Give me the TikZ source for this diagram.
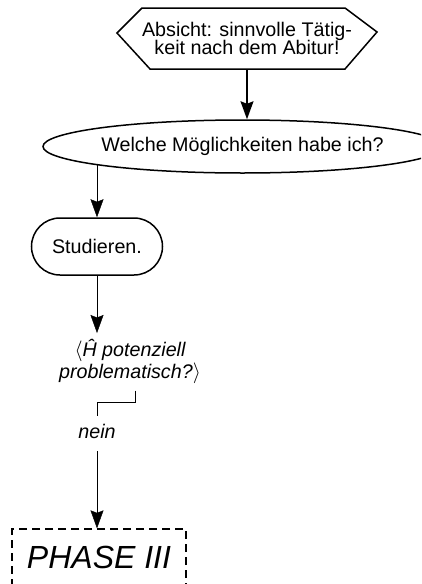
\documentclass[tikz,border=0pt]{standalone}
\usepackage{fontspec}
\setmainfont{Liberation Sans}
\usetikzlibrary{arrows.meta,shapes.geometric,backgrounds}

\begin{document}
\begin{tikzpicture}[x=1pt,y=-1pt,
  line width=1.5pt,
  txt/.style={font=\fontsize{19.7}{18.5}\selectfont, inner sep=0pt},
  itxt/.style={font=\fontsize{19.7}{21.6}\selectfont\itshape, inner sep=0pt},
  arr/.style={-{Stealth[length=18pt,width=13pt,inset=2.5pt]}},
  stadium/.style={draw, fill=white, rounded corners=28.5pt,
    minimum width=131pt, minimum height=57pt},
  oval/.style={ellipse, draw, fill=white, minimum width=355pt,
    minimum height=53pt},
  phasebox/.style={draw, line width=1.3pt, dash pattern=on 8pt off 5pt,
    inner sep=0pt, minimum width=174pt, minimum height=57pt,
    font=\fontsize{32}{36}\selectfont\itshape}
]
\clip (0,0) rectangle (421,584);

% goal: irregular hexagon with its text
\draw[fill=white] (142,8) -- (345,8) -- (377,32) -- (345,69)
  -- (150,69) -- (117,33) -- cycle;
\node[txt, align=center, minimum width=260pt, minimum height=61pt]
  (goal) at (247,38.5) {Absicht: sinnvolle Tätig-\\keit nach dem Abitur!};

% options
\node[oval, txt] (ell) at (242.5,146.5) {Welche Möglichkeiten habe ich?};

% first option
\node[stadium, txt] (stud) at (97,246.5) {Studieren.};

% condition
\node[itxt, align=center, anchor=north, inner ysep=6pt] (q) at (130,333)
  {$\langle$Ĥ potenziell\\problematisch?$\rangle$};

\node[itxt, anchor=base, text depth=5pt, outer ysep=8pt] (nein) at (97,438) {nein};

% next phase
\node[phasebox] (phase) at (99,557.5) {PHASE III};

% connectors
\draw[arr] (goal.south) -- (goal.south |- ell.north);
\begin{pgfonlayer}{background}
  \draw[arr] (stud.north |- ell.center) -- (stud.north);
\end{pgfonlayer}
\draw[arr] (stud.south) -- (stud.south |- q.north);
\draw ([xshift=5pt]q.south) -- ++(0,12) -| (nein.north);
\draw[arr] (nein.south) -- (nein.south |- phase.north);
\end{tikzpicture}
\end{document}
